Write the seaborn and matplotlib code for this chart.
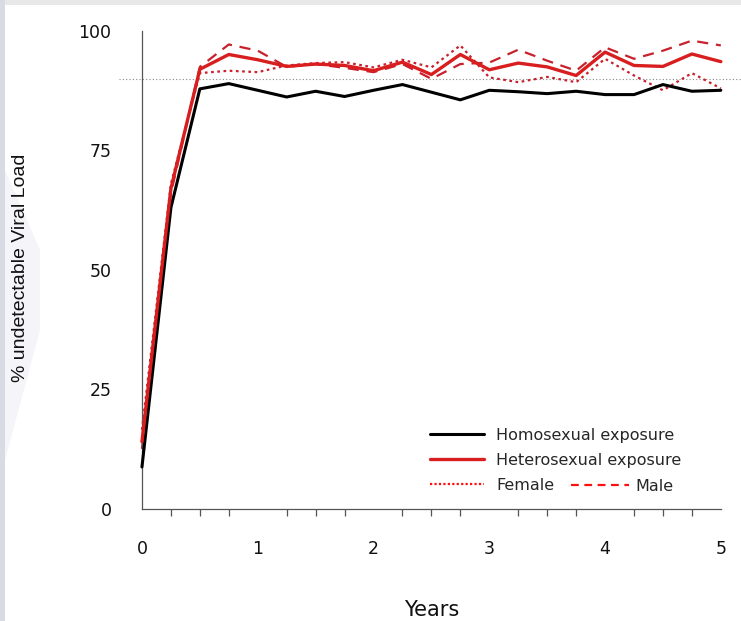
import numpy as np
import pandas as pd
import matplotlib
matplotlib.use("Agg")
import matplotlib.pyplot as plt
import seaborn as sns
from matplotlib.lines import Line2D
from matplotlib.patches import Rectangle, Polygon
from matplotlib.ticker import MultipleLocator

# ---- data (quarterly, years 0..5) ----
years = [i * 0.25 for i in range(21)]
homosexual = [8.7, 63.0, 87.9, 89.0, 87.6, 86.2, 87.4, 86.3, 87.6, 88.8, 87.2,
              85.6, 87.6, 87.3, 86.9, 87.4, 86.7, 86.7, 88.8, 87.4, 87.6]
heterosexual = [14.0, 67.0, 92.0, 95.1, 94.0, 92.6, 93.1, 92.8, 91.7, 93.5, 90.9,
                95.1, 91.9, 93.3, 92.5, 90.7, 95.6, 92.8, 92.6, 95.2, 93.6]
female = [16.5, 68.0, 91.2, 91.7, 91.4, 92.8, 93.3, 93.5, 92.4, 94.0, 92.4,
          97.0, 90.3, 89.3, 90.4, 89.3, 94.2, 90.7, 87.6, 91.2, 88.0]
male = [12.5, 66.0, 92.5, 97.2, 95.9, 92.5, 93.1, 92.3, 91.4, 93.1, 90.0,
        93.1, 93.4, 96.1, 93.8, 91.7, 96.6, 94.2, 95.9, 98.0, 97.0]
threshold = 90
x_ticks = [0, 1, 2, 3, 4, 5]
y_ticks = [0, 25, 50, 75, 100]
legend_labels = ["Homosexual exposure", "Heterosexual exposure", "Female", "Male"]

df = pd.DataFrame({"year": years, "homo": homosexual, "hetero": heterosexual,
                   "female": female, "male": male})

sns.set_style("white")
plt.rcParams["font.family"] = ["DejaVu Sans"]

RED = "#d81e1e"
RED2 = "#c8202c"

fig = plt.figure(figsize=(7.41, 6.21), dpi=100)
fig.patch.set_facecolor("white")

# slide-like background strips
fig.add_artist(Rectangle((0, 1 - 5 / 621), 1, 5 / 621, transform=fig.transFigure,
                         facecolor="#e8e8e8", edgecolor="none", zorder=0))
fig.add_artist(Rectangle((0, 0), 5 / 741, 1, transform=fig.transFigure,
                         facecolor="#d9dbe4", edgecolor="none", zorder=0))
fig.add_artist(Polygon([(5 / 741, 1 - 170 / 621), (40 / 741, 1 - 250 / 621),
                        (40 / 741, 1 - 330 / 621), (5 / 741, 1 - 460 / 621)],
                       closed=True, transform=fig.transFigure,
                       facecolor="#f4f4f9", edgecolor="none", zorder=0))

ax = fig.add_axes([118.8 / 741, 1 - 527.6 / 621, 625.2 / 741, 515.6 / 621])
ax.set_facecolor("none")

ax.axhline(threshold, color="#888888", lw=0.8, ls=(0, (1, 2)), zorder=1)

sns.lineplot(data=df, x="year", y="female", ax=ax, color=RED2, lw=1.6,
             linestyle=(0, (1.2, 1.6)), zorder=2)
sns.lineplot(data=df, x="year", y="male", ax=ax, color=RED2, lw=1.6,
             linestyle=(0, (5, 3.5)), zorder=2)
sns.lineplot(data=df, x="year", y="homo", ax=ax, color="black", lw=2.2, zorder=3)
sns.lineplot(data=df, x="year", y="hetero", ax=ax, color=RED, lw=2.4, zorder=4)

ax.set_xlim(-0.2, 5.2)
ax.set_ylim(-4, 104)

for s in ["top", "right"]:
    ax.spines[s].set_visible(False)
ax.spines["left"].set_position(("data", 0))
ax.spines["bottom"].set_position(("data", 0))
ax.spines["left"].set_bounds(0, 100)
ax.spines["bottom"].set_bounds(0, 5)
for s in ["left", "bottom"]:
    ax.spines[s].set_color("#555555")
    ax.spines[s].set_linewidth(0.9)

ax.set_xticks(x_ticks)
ax.set_yticks(y_ticks)
ax.xaxis.set_minor_locator(MultipleLocator(0.25))
ax.tick_params(axis="both", which="major", direction="out", length=10, width=0.9,
               color="#555555", labelsize=12.5, labelcolor="#111111")
ax.tick_params(axis="x", which="major", pad=13)
ax.tick_params(axis="y", which="major", pad=12)
ax.tick_params(axis="x", which="minor", direction="out", length=5, width=0.9,
               color="#555555", bottom=True)

ax.set_xlabel("Years", fontsize=15, color="#111111", va="center")
ax.xaxis.set_label_coords(0.5, (527.6 - 610) / 515.6)
ax.set_ylabel("% undetectable Viral Load", fontsize=14, color="#111111",
              family=["Liberation Sans", "DejaVu Sans"], va="center")
ax.yaxis.set_label_coords((21 - 118.8) / 625.2, (527.6 - 268) / 515.6)

# legends
h1 = [Line2D([], [], color="black", lw=2.2),
      Line2D([], [], color=RED, lw=2.4),
      Line2D([], [], color="#ff1010", lw=1.6, linestyle=(0, (1, 1)))]
leg1 = ax.legend(h1, legend_labels[:3], loc="upper left",
                 bbox_to_anchor=((430 - 118.8) / 625.2, (527.6 - 428) / 515.6),
                 frameon=False, fontsize=11.5, handlelength=3.4, handletextpad=0.75,
                 labelspacing=0.62, borderaxespad=0, borderpad=0)
ax.add_artist(leg1)
h2 = [Line2D([], [], color="#ff1010", lw=1.6, linestyle=(0, (3.5, 2.5)))]
ax.legend(h2, legend_labels[3:], loc="upper left",
          bbox_to_anchor=((571 - 118.8) / 625.2, (527.6 - 479) / 515.6),
          frameon=False, fontsize=11.5, handlelength=3.6, handletextpad=0.4,
          borderaxespad=0, borderpad=0)

fig.savefig("out.png", dpi=100)
